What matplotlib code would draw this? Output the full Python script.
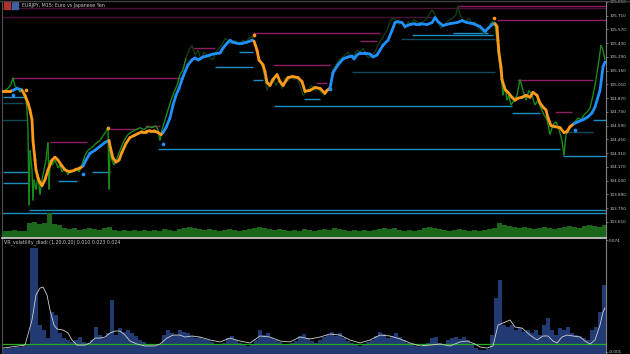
import numpy as np
import matplotlib
matplotlib.use("Agg")
import matplotlib.pyplot as plt
from matplotlib.collections import LineCollection
from matplotlib.lines import Line2D
from matplotlib.patches import Rectangle

# ---------------- data ----------------
title = "EURJPY, M15: Euro vs Japanese Yen"
ind_label = "VR_volatility_diadi (1.20,0.20) 0.010 0.023 0.024"

price_ticks = [105.850, 105.710, 105.570, 105.430, 105.290, 105.150, 105.010,
               104.870, 104.730, 104.590, 104.450, 104.310, 104.170, 104.030,
               103.890, 103.750, 103.610]
ind_ticks = [0.074, -0.001]

# smoothed trend line (bar index, price)
smooth_t = [2,6,10,13,15,17,20,22,25,28,30,32,33,35,36,38,40,42,45,48,52,55,58,62,65,70,75,80,83,86,90,95,100,105,109,111,113,116,119,122,126,130,134,138,142,146,150,154,158,161,163,166,170,173,176,179,182,185,188,192,195,198,200,203,207,210,213,220,223,227,230,233,237,242,247,252,254,257,259,263,265,267,270,273,277,280,283,288,293,298,302,305,310,315,320,325,327,330,333,338,343,348,352,354,357,360,365,370,373,377,380,383,388,392,395,398,402,405,410,415,420,427,432,435,438,443,450,457,462,467,473,480,485,488,492,495,497,498,499,501,502,505,508,512,515,518,522,526,530,533,537,540,543,546,548,551,555,560,564,567,570,574,578,583,588,592,595,600,603,605]
smooth_p = [104.94,104.94,104.94,104.95,104.96,104.97,104.96,104.95,104.90,104.82,104.75,104.65,104.44,104.24,104.14,104.06,104.01,103.98,104.04,104.14,104.24,104.27,104.24,104.18,104.14,104.12,104.14,104.16,104.18,104.24,104.31,104.34,104.38,104.42,104.44,104.34,104.26,104.22,104.24,104.32,104.41,104.47,104.49,104.51,104.53,104.53,104.54,104.54,104.52,104.50,104.52,104.57,104.67,104.80,104.90,104.97,105.06,105.14,105.21,105.26,105.28,105.26,105.27,105.29,105.30,105.31,105.32,105.33,105.38,105.43,105.46,105.44,105.43,105.43,105.44,105.46,105.45,105.36,105.26,105.21,105.14,105.03,105.00,105.06,105.11,105.04,105.00,105.08,105.09,105.08,105.04,104.94,104.95,104.98,104.97,104.92,104.95,104.97,105.13,105.21,105.27,105.29,105.30,105.27,105.31,105.33,105.33,105.32,105.29,105.31,105.36,105.41,105.46,105.56,105.64,105.65,105.64,105.60,105.62,105.63,105.63,105.62,105.64,105.69,105.65,105.61,105.63,105.64,105.66,105.64,105.63,105.60,105.55,105.58,105.62,105.63,105.60,105.46,105.33,105.19,105.06,104.96,104.93,104.88,104.85,104.87,104.88,104.90,104.88,104.93,104.90,104.82,104.78,104.75,104.67,104.59,104.58,104.57,104.52,104.53,104.58,104.61,104.63,104.65,104.68,104.72,104.78,104.95,105.19,105.24]
# bars where the trend colour flips (starts orange = down)
trend_switch = [13, 22, 83, 109, 162, 254, 330, 495, 574]

# close price line
close_t = [2,5,8,11,13,15,18,20,22,24,26,27,28,29,30,32,33,34,36,38,40,42,44,46,48,49,50,52,55,58,60,62,65,68,70,73,76,79,82,85,88,91,94,97,100,103,106,108,109,110,112,114,117,120,124,128,132,136,140,144,148,152,156,158,160,162,165,168,171,174,177,180,183,186,189,192,195,198,201,204,207,210,213,216,219,222,225,228,231,234,237,240,243,246,249,252,255,258,261,264,267,270,273,276,279,282,285,288,291,294,297,300,303,306,309,312,315,318,321,324,327,330,333,336,339,342,345,348,351,354,357,360,363,366,369,372,375,378,381,384,387,390,393,396,399,402,405,408,411,414,417,420,423,426,429,432,435,438,441,444,447,450,453,456,458,460,463,466,469,472,475,478,481,484,487,490,493,495,497,499,501,503,505,507,509,511,514,517,520,523,526,529,532,535,538,541,544,547,550,553,556,559,562,564,566,569,572,575,578,581,584,587,590,593,596,599,601,603,605]
close_p = [104.93,104.95,104.97,105.01,105.08,104.99,104.97,104.93,104.97,104.89,104.85,104.75,104.55,103.78,104.34,104.14,103.83,104.04,103.94,104.09,103.89,104.04,104.14,104.24,104.42,103.94,104.24,104.19,104.24,104.16,104.19,104.12,104.16,104.09,104.14,104.12,104.16,104.12,104.19,104.29,104.34,104.36,104.39,104.42,104.44,104.49,104.53,104.58,103.94,104.34,104.24,104.19,104.26,104.34,104.44,104.50,104.53,104.55,104.57,104.55,104.58,104.57,104.59,104.55,104.44,104.55,104.65,104.75,104.85,104.93,105.00,105.11,105.16,105.28,105.36,105.41,105.31,105.36,105.26,105.34,105.31,105.28,105.26,105.34,105.38,105.41,105.48,105.46,105.42,105.46,105.44,105.41,105.46,105.44,105.48,105.50,105.41,105.28,105.24,105.11,104.95,105.04,105.08,105.00,105.06,104.97,105.08,105.04,105.11,105.06,105.08,105.00,104.90,104.93,104.97,105.00,104.95,104.97,104.93,104.90,104.95,105.00,105.16,105.21,105.26,105.28,105.31,105.34,105.28,105.31,105.36,105.34,105.38,105.31,105.28,105.31,105.34,105.41,105.46,105.51,105.56,105.65,105.69,105.67,105.62,105.65,105.58,105.65,105.62,105.67,105.65,105.62,105.65,105.67,105.72,105.77,105.72,105.65,105.58,105.62,105.65,105.67,105.69,105.72,105.81,105.72,105.67,105.65,105.69,105.62,105.65,105.58,105.56,105.53,105.56,105.62,105.65,105.62,105.46,105.26,105.11,104.90,105.00,104.85,104.90,104.80,104.85,104.90,105.06,104.95,104.85,104.95,104.90,104.80,104.85,104.77,104.70,104.65,104.50,104.60,104.63,104.55,104.44,104.29,104.50,104.55,104.60,104.63,104.67,104.65,104.70,104.73,104.77,104.90,105.06,105.26,105.41,105.36,105.26]
close_bright = [(0, 186), (490, 607)]

# arrow/signal dots
sig_down_t = [26, 108, 254, 494]
sig_down_p = [104.95, 104.57, 105.51, 105.69]
sig_up_t = [13, 83, 163, 330, 575]
sig_up_p = [104.90, 104.10, 104.40, 104.96, 104.55]

# resistance levels: price, start bar, end bar, bright?
res_p     = [105.79, 105.81, 105.70, 105.67, 105.08, 105.38, 105.53, 105.45, 105.21, 105.03, 105.06, 104.42, 104.56, 104.59, 104.73]
res_start = [0,      458,    0,      497,    13,     193,    253,    360,    273,    316,    517,    50,     110,    145,    555]
res_end   = [606,    606,    432,    606,    183,    215,    380,    377,    330,    327,    593,    87,     138,    160,    572]
res_bright= [0,      1,      0,      1,      1,      1,      1,      1,      1,      1,      1,      1,      1,      1,      1]
# support levels
sup_p     = [104.88, 104.82, 104.65, 104.12, 104.01, 104.03, 104.12, 104.35, 104.28, 103.73, 103.70, 105.34, 105.19, 105.06, 104.86, 104.79, 105.14, 105.47, 105.51, 105.53, 104.72, 104.65, 104.53]
sup_start = [3,      3,      0,      3,      3,      58,     92,     158,    563,    29,     0,      239,    215,    253,    304,    274,    352,    401,    412,    453,    512,    593,    565]
sup_end   = [25,     23,     27,     28,     28,     77,     110,    560,    606,    606,    606,    253,    253,    263,    320,    512,    495,    495,    493,    488,    540,    606,    593]
sup_bright= [1,      0,      0,      1,      1,      1,      1,      1,      1,      1,      1,      1,      1,      1,      1,      1,      0,      0,      1,      1,      1,      1,      0]

# tick volume (bars every 5 bars starting at bar 2)
volume = [6,6,7,6,6,14,15,13,14,24,13,12,9,8,9,7,8,9,8,7,9,10,7,6,7,6,7,6,7,6,7,6,8,7,6,8,9,10,9,8,7,8,
          7,6,7,8,7,6,7,8,9,10,9,8,7,8,7,6,7,6,8,7,6,7,8,7,9,8,7,6,7,6,7,6,7,8,9,8,9,7,6,7,6,7,
          9,10,9,8,7,6,7,8,7,6,7,6,7,8,9,14,12,11,10,9,10,9,8,9,10,9,8,9,10,11,10,9,11,12,11,10,12]

# volatility histogram (bars every 4 bars starting at bar 2)
vol_hist = [0.0010,0.0016,0.0016,0.0023,0.0023,0.0030,0.0043,0.0686,0.0686,0.0170,0.0137,0.0083,0.0258,0.0237,0.0117,0.0083,
            0.0070,0.0057,0.0070,0.0090,0.0057,0.0050,0.0070,0.0157,0.0103,0.0083,0.0117,0.0338,0.0103,0.0150,0.0124,0.0137,
            0.0117,0.0097,0.0070,0.0057,0.0043,0.0036,0.0030,0.0043,0.0103,0.0137,0.0117,0.0103,0.0137,0.0124,0.0117,0.0097,
            0.0083,0.0090,0.0077,0.0070,0.0057,0.0043,0.0036,0.0050,0.0083,0.0097,0.0070,0.0050,0.0036,0.0030,0.0043,0.0070,
            0.0137,0.0103,0.0117,0.0083,0.0070,0.0057,0.0043,0.0036,0.0050,0.0063,0.0097,0.0110,0.0083,0.0063,0.0050,0.0070,
            0.0090,0.0103,0.0124,0.0097,0.0117,0.0083,0.0063,0.0050,0.0036,0.0030,0.0043,0.0057,0.0070,0.0097,0.0124,0.0110,
            0.0083,0.0097,0.0117,0.0090,0.0070,0.0050,0.0036,0.0030,0.0023,0.0036,0.0050,0.0083,0.0090,0.0050,0.0043,0.0070,
            0.0083,0.0090,0.0077,0.0090,0.0070,0.0036,0.0016,0.0003,0.0003,0.0010,0.0103,0.0351,0.0472,0.0170,0.0157,0.0170,
            0.0137,0.0150,0.0124,0.0137,0.0117,0.0137,0.0103,0.0170,0.0217,0.0137,0.0103,0.0150,0.0137,0.0157,0.0117,0.0103,
            0.0097,0.0083,0.0070,0.0137,0.0157,0.0258,0.0438,0.0438]
# smoothed volatility line
vline_t = [3,25,32,36,40,43,47,50,54,57,63,68,72,77,85,90,95,100,105,110,115,120,125,130,137,145,155,160,167,173,180,185,192,200,210,
           220,230,240,250,260,270,280,290,300,310,320,330,340,350,360,370,380,390,400,410,
           420,430,440,450,460,467,475,480,487,493,498,503,510,515,522,530,537,543,548,553,557,562,567,573,580,585,590,595,600,603,605]
vline_v = [0.0016,0.0036,0.0204,0.0372,0.0418,0.0425,0.0372,0.0271,0.0170,0.0144,0.0137,0.0117,0.0070,0.0036,0.0036,0.0050,0.0083,0.0083,0.0090,0.0117,0.0130,0.0130,0.0103,0.0063,0.0043,0.0030,0.0030,0.0043,0.0083,0.0103,0.0103,0.0090,0.0097,0.0090,0.0070,
           0.0057,0.0083,0.0063,0.0050,0.0097,0.0090,0.0063,0.0057,0.0090,0.0077,0.0090,0.0110,0.0103,0.0070,0.0050,0.0070,0.0103,0.0097,0.0077,0.0050,
           0.0030,0.0036,0.0043,0.0030,0.0057,0.0063,0.0043,0.0023,0.0016,0.0030,0.0170,0.0184,0.0204,0.0157,0.0150,0.0103,0.0070,0.0097,0.0097,0.0063,0.0050,0.0090,0.0103,0.0097,0.0090,0.0063,0.0043,0.0070,0.0170,0.0258,0.0284]
ind_level = 0.0043

# ---------------- styling ----------------
W, H = 630, 354
BG = "black"
ORANGE = "#FF9A1A"
BLUE = "#1E90FF"
GREEN_B = "#1A8C1A"
GREEN_D = "#123F12"
RES_B = "#8E1D64"
RES_D = "#4A1238"
SUP_B = "#1B8FC2"
SUP_D = "#0F4A5C"
AXC = "#808080"
TXT = "#C8C8C8"

fig = plt.figure(figsize=(W / 100, H / 100), dpi=100, facecolor=BG)

def fx(px):
    return px / W

def fy(py):
    return 1 - py / H

X0, X1 = 2, 606
ax = fig.add_axes([fx(X0), fy(237), fx(X1) - fx(X0), fy(1) - fy(237)], facecolor=BG)
ax.set_xlim(X0, X1)
ax.set_ylim(103.457, 105.860)

# levels
for p, s, e, b in zip(res_p, res_start, res_end, res_bright):
    ax.hlines(p, s, e, colors=RES_B if b else RES_D, lw=1.0, zorder=2)
for p, s, e, b in zip(sup_p, sup_start, sup_end, sup_bright):
    ax.hlines(p, s, e, colors=SUP_B if b else SUP_D, lw=1.0, zorder=2)

# close line
ct = np.array(close_t, float)
cp = np.array(close_p, float)
segs = np.stack([np.column_stack([ct[:-1], cp[:-1]]), np.column_stack([ct[1:], cp[1:]])], axis=1)
cols = []
for t0 in ct[:-1]:
    bright = any(a <= t0 < b for a, b in close_bright)
    cols.append(GREEN_B if bright else GREEN_D)
ax.add_collection(LineCollection(segs, colors=cols, linewidths=1.0, zorder=3))

# smooth trend line
st = np.array(smooth_t, float)
sp = np.array(smooth_p, float)
segs = np.stack([np.column_stack([st[:-1], sp[:-1]]), np.column_stack([st[1:], sp[1:]])], axis=1)
cols = []
for t0 in st[:-1]:
    k = sum(1 for s in trend_switch if t0 >= s)
    cols.append(ORANGE if k % 2 == 0 else BLUE)
ax.add_collection(LineCollection(segs, colors=cols, linewidths=2.0, zorder=4, capstyle='round'))

ax.scatter(sig_down_t, sig_down_p, s=7, color=ORANGE, zorder=5, linewidths=0)
ax.scatter(sig_up_t, sig_up_p, s=7, color=BLUE, zorder=5, linewidths=0)

ax.yaxis.tick_right()
ax.set_yticks(price_ticks)
ax.set_yticklabels([f"{v:.3f}" for v in price_ticks])
ax.tick_params(axis='y', colors=AXC, labelcolor=TXT, labelsize=3.0, length=1.5, width=0.6, pad=0.8)
ax.set_xticks([])
for side in ["top", "bottom"]:
    ax.spines[side].set_visible(False)
ax.spines["right"].set_color(AXC)
ax.spines["right"].set_linewidth(0.8)
ax.spines["left"].set_color("#505050")
ax.spines["left"].set_linewidth(0.8)

# volume overlay in the bottom of the price window
axv = fig.add_axes([fx(X0), fy(237), fx(X1) - fx(X0), fy(211) - fy(237)], facecolor="none")
axv.set_xlim(X0, X1)
axv.set_ylim(0, 26)
vt = X0 + 5 * np.arange(len(volume))
axv.bar(vt, volume, width=5, align='edge', color="#1C661C", edgecolor="none")
axv.axis("off")

# separator
fig.add_artist(Line2D([fx(X0), fx(X1)], [fy(237.5), fy(237.5)], color="#D8D8D8", lw=1.2))

# indicator window
ax2 = fig.add_axes([fx(X0), fy(354), fx(X1) - fx(X0), fy(239) - fy(354)], facecolor=BG)
ax2.set_xlim(X0, X1)
ymin2 = -0.00238
ax2.set_ylim(ymin2, 0.0747)
ht = X0 + 4 * np.arange(len(vol_hist))
hv = np.array(vol_hist)
ax2.bar(ht, hv - ymin2, bottom=ymin2, width=4, align='edge', color="#213A74", edgecolor="none", zorder=1)
ax2.axhline(ind_level, color="#22B022", lw=0.9, zorder=2)
ax2.plot(vline_t, vline_v, color="#D0D0D0", lw=0.6, zorder=3)
ax2.yaxis.tick_right()
ax2.set_yticks(ind_ticks)
ax2.set_yticklabels([f"{v:.3f}" for v in ind_ticks])
ax2.tick_params(axis='y', colors=AXC, labelcolor=TXT, labelsize=3.0, length=1.5, width=0.6, pad=0.8)
ax2.set_xticks([])
for side in ["top", "bottom"]:
    ax2.spines[side].set_visible(False)
ax2.spines["right"].set_color(AXC)
ax2.spines["right"].set_linewidth(0.8)
ax2.spines["left"].set_color("#505050")
ax2.spines["left"].set_linewidth(0.8)

# texts
fig.text(fx(22), fy(5.5), title, fontsize=3.4, color=TXT, va='center', ha='left')
fig.text(fx(4), fy(242), ind_label, fontsize=3.4, color=TXT, va='center', ha='left')
fig.add_artist(Rectangle((fx(4), fy(9)), fx(6), fy(2) - fy(9), color="#B03030", transform=fig.transFigure))
fig.add_artist(Rectangle((fx(12), fy(9)), fx(6), fy(2) - fy(9), color="#4060A0", transform=fig.transFigure))
fig.add_artist(Line2D([0, 1], [fy(0.5), fy(0.5)], color="#404040", lw=1.0))

fig.savefig("out.png", dpi=100, facecolor=BG)
